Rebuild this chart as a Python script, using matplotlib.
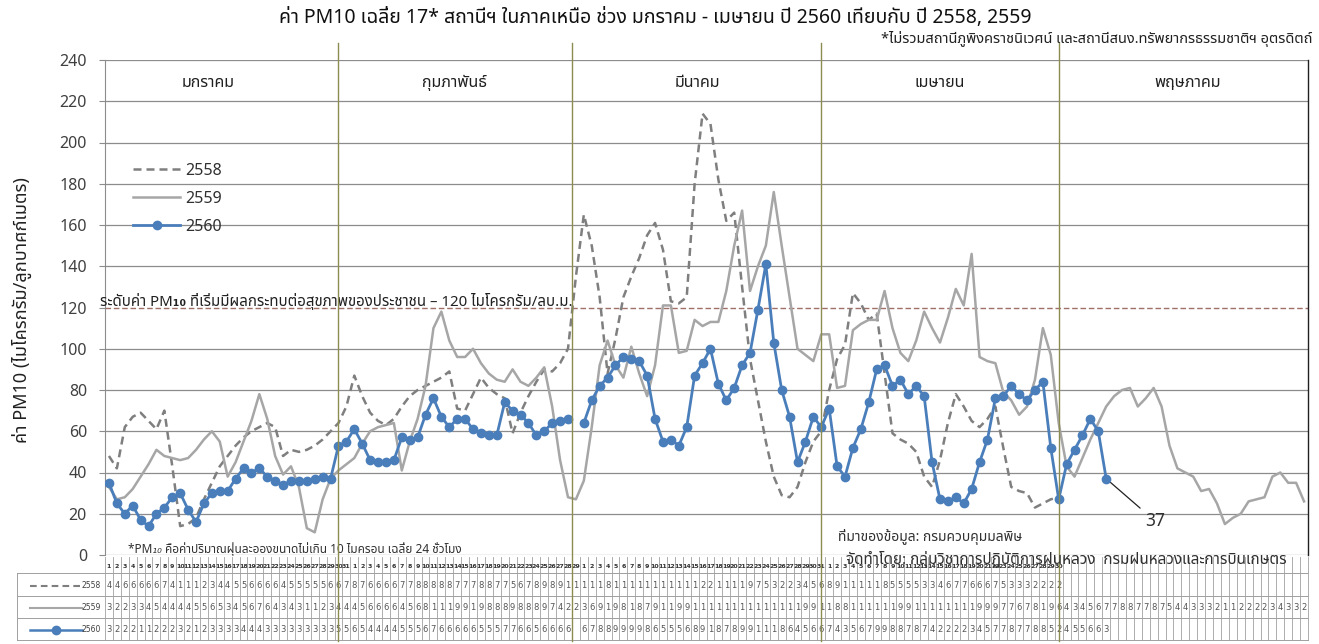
import matplotlib
matplotlib.use("Agg")
import matplotlib.pyplot as plt
import numpy as np
from matplotlib import font_manager
from matplotlib.ft2font import FT2Font
import matplotlib.transforms as mtransforms
from matplotlib.lines import Line2D

# ---------------- data ----------------
month_names = ["มกราคม", "กุมภาพันธ์", "มีนาคม", "เมษายน", "พฤษภาคม"]
month_days = [31, 29, 31, 30, 31]
labelled_months = 4          # the table header shows day numbers for Jan-Apr only
series_labels = ["2558", "2559", "2560"]

pm2558 = [48, 42, 62, 67, 69, 65, 61, 70, 43, 14, 15, 18, 27, 35, 43, 48, 53, 57, 60, 62,
          64, 62, 48, 51, 50, 51, 53, 56, 60, 64,
          72, 87, 77, 69, 65, 63, 66, 72, 77, 80, 82, 84, 86, 89, 71, 70, 78, 86, 81, 78,
          76, 59, 69, 77, 84, 90, 89, 93, 100, 135,
          165, 150, 125, 88, 105, 125, 135, 144, 155, 161, 148, 123, 122, 125, 180, 214, 209, 182, 162, 166,
          130, 95, 75, 55, 38, 29, 28, 33, 45, 55, 60,
          80, 95, 102, 127, 122, 114, 117, 88, 59, 56, 54, 50, 38, 33, 46, 64, 78, 72, 65, 62,
          66, 72, 52, 33, 31, 30, 23, 25, 27, 28]

pm2559 = [33, 27, 28, 32, 38, 44, 51, 48, 47, 46, 47, 51, 56, 60, 55, 38, 45, 55, 65, 78,
          66, 48, 39, 43, 33, 13, 11, 27, 37, 41,
          44, 47, 54, 60, 62, 63, 64, 41, 55, 66, 82, 110, 118, 104, 96, 96, 100, 93, 88, 85,
          84, 90, 84, 82, 86, 91, 72, 46, 28, 27,
          36, 62, 92, 104, 92, 86, 101, 88, 77, 92, 121, 121, 98, 99, 114, 111, 113, 113, 128, 150,
          167, 128, 140, 150, 176, 150, 125, 100, 97, 94, 107,
          107, 81, 82, 109, 112, 114, 114, 128, 110, 98, 94, 104, 118, 110, 103, 115, 129, 121, 146, 96,
          94, 93, 79, 75, 68, 72, 85, 110, 97, 64,
          43, 38, 47, 56, 64, 72, 77, 80, 81, 72, 76, 81, 72, 53, 42, 40, 38, 31, 32, 25,
          15, 18, 20, 26, 27, 28, 38, 40, 35, 35, 26]

pm2560 = [35, 25, 20, 24, 17, 14, 20, 23, 28, 30, 22, 16, 25, 30, 31, 31, 37, 42, 40, 42,
          38, 36, 34, 36, 36, 36, 37, 38, 37,
          53, 55, 61, 54, 46, 45, 45, 46, 57, 56, 57,
          68, 76, 67, 62, 66, 66, 61, 59, 58, 58, 74, 70, 68, 64, 58, 60, 64, 65, 66,
          np.nan,
          64, 75, 82, 86, 92, 96, 95, 94, 87, 66, 55, 56, 53, 62, 87, 93, 100, 83, 75, 81,
          92, 98, 119, 141, 103, 80, 67, 45, 55, 67, 62,
          71, 43, 38, 52, 61, 74, 90, 92, 82, 85, 78, 82, 77, 45, 27, 26, 28, 25, 32, 45,
          56, 76, 77, 82, 78, 75, 80, 84, 52, 27,
          44, 51, 58, 66, 60, 37]

threshold = 120
yticks = list(range(0, 241, 20))
month_line_pos = [29.0, 58.5, 90.0, 120.0]      # category positions of the month dividers
month_label_pos = [12.5, 43.7, 74.3, 105.0, 136.3]

# ---------------- fonts ----------------
def find_thai():
    prefs = ["Tahoma", "Noto Sans Thai", "Noto Sans Thai UI", "Sarabun", "Loma", "Garuda",
             "Kinnari", "Norasi", "Waree", "Umpush", "Laksaman", "Noto Serif Thai"]
    found = set()
    for f in font_manager.fontManager.ttflist:
        if f.name in found:
            continue
        try:
            if 0x0E01 in FT2Font(f.fname).get_charmap():
                found.add(f.name)
        except Exception:
            pass
    for p in prefs:
        if p in found:
            return p
    return sorted(found)[0] if found else None

thai = find_thai()
FAM = [thai, "DejaVu Sans"] if thai else ["DejaVu Sans"]
plt.rcParams["font.family"] = FAM

# ---------------- figure ----------------
W, H = 1319, 644
fig = plt.figure(figsize=(W / 100, H / 100), dpi=100)
L, R, T, B = 105, 1308, 60, 555
ax = fig.add_axes([L / W, 1 - B / H, (R - L) / W, (B - T) / H])

N = sum(month_days)
x = np.arange(N)

def pad(a):
    out = np.full(N, np.nan)
    out[:len(a)] = a
    return out

y58, y59, y60 = pad(pm2558), pad(pm2559), pad(pm2560)

ax.set_xlim(-0.5, N - 0.5)
ax.set_ylim(0, 240)

grid_c = "#8c8c8c"
for v in yticks:
    if v == threshold:
        continue
    ax.axhline(v, color=grid_c, lw=0.9, zorder=0)

for s in ["top", "bottom"]:
    ax.spines[s].set_visible(False)
ax.spines["left"].set_color(grid_c)
ax.spines["right"].set_color("#202020")
ax.spines["right"].set_linewidth(1.0)
ax.set_xticks([])
ax.set_yticks(yticks)
ax.tick_params(axis="y", length=4, pad=9, color=grid_c, labelsize=11.5, labelcolor="#404040")

# threshold line
ax.axhline(threshold, color="#a07068", lw=1.0, ls=(0, (4, 2)), zorder=1)

# series
l58, = ax.plot(x, y58, color="#7f7f7f", lw=1.8, ls=(0, (3.2, 2)), zorder=3, label=series_labels[0])
l59, = ax.plot(x, y59, color="#a6a6a6", lw=1.8, zorder=3, label=series_labels[1])
l60, = ax.plot(x, y60, color="#4a7ebb", lw=2.0, marker="o", ms=6, zorder=4, label=series_labels[2])

# month divider lines (x in data, y in figure)
bt = mtransforms.blended_transform_factory(ax.transData, fig.transFigure)
def fy(py):
    return 1 - py / H
for xm in month_line_pos:
    fig.add_artist(Line2D([xm, xm], [fy(43), fy(641)], transform=bt, color="#8c8c50", lw=1.0, zorder=5))
for xm, nm in zip(month_label_pos, month_names):
    ax.text(xm, 229, nm, ha="center", va="center", fontsize=11.5, color="#202020")

# legend
leg = ax.legend(handles=[l58, l59, l60], loc="upper left",
                bbox_to_anchor=((133 - L) / (R - L), (B - 163) / (B - T)),
                frameon=False, fontsize=11.5, handlelength=2.95, handletextpad=0.35,
                labelspacing=0.75, borderpad=0, borderaxespad=0)
for t in leg.get_texts():
    t.set_color("#303030")

# threshold label
fig.text(100 / W, fy(301), "ระดับค่า PM₁₀ ที่เริ่มมีผลกระทบต่อสุขภาพของประชาชน – 120 ไมโครกรัม/ลบ.ม.",
         ha="left", va="center", fontsize=10.8, color="#202020", fontweight="bold")

# annotation of the last value
last_i = int(np.where(~np.isnan(y60))[0][-1])
ax.annotate(f"{int(y60[last_i])}", xy=(last_i, y60[last_i]),
            xytext=((1155 - L) / (R - L) * N - 0.5, (B - 521) / (B - T) * 240),
            ha="center", va="center", fontsize=12.5, color="#303030",
            arrowprops=dict(arrowstyle="-", color="#202020", lw=0.9, shrinkA=2, shrinkB=2))

# titles and notes
fig.text(655 / W, fy(18), "ค่า PM10 เฉลี่ย 17* สถานีฯ ในภาคเหนือ ช่วง มกราคม - เมษายน ปี 2560 เทียบกับ ปี 2558, 2559",
         ha="center", va="center", fontsize=14, color="#101010")
fig.text(1312 / W, fy(39), "*ไม่รวมสถานีภูพิงคราชนิเวศน์ และสถานีสนง.ทรัพยากรธรรมชาติฯ อุตรดิตถ์",
         ha="right", va="center", fontsize=10.5, style="italic", color="#202020")
fig.text(22 / W, fy(310), "ค่า PM10 (ไมโครกรัม/ลูกบาศก์เมตร)", rotation=90,
         ha="center", va="center", fontsize=13, color="#202020")
fig.text(128 / W, fy(549), "*PM₁₀ คือค่าปริมาณฝุ่นละอองขนาดไม่เกิน 10 ไมครอน เฉลี่ย 24 ชั่วโมง",
         ha="left", va="center", fontsize=8.5, style="italic", color="#303030")
fig.text(838 / W, fy(537), "ที่มาของข้อมูล: กรมควบคุมมลพิษ",
         ha="left", va="center", fontsize=10, style="italic", color="#303030")
fig.text(846 / W, fy(560), "จัดทำโดย: กลุ่มวิชาการปฏิบัติการฝนหลวง  กรมฝนหลวงและการบินเกษตร",
         ha="left", va="center", fontsize=11, style="italic", color="#303030", zorder=6)

# ---------------- data table ----------------
tab_c = "#a0a0a0"
row_lines = [573, 596, 618, 640]
for py in row_lines:
    fig.add_artist(Line2D([17 / W, R / W], [fy(py), fy(py)], color=tab_c, lw=0.7))
fig.add_artist(Line2D([17 / W, 17 / W], [fy(573), fy(640)], color=tab_c, lw=0.7))
for k in range(N + 1):
    fig.add_artist(Line2D([k - 0.5, k - 0.5], [fy(557), fy(640)], transform=bt, color=tab_c, lw=0.6))

day_labels = [str(d + 1) for m in month_days[:labelled_months] for d in range(m)]
for i, d in enumerate(day_labels):
    fig.text(i, fy(566), d, transform=bt, ha="center", va="center",
             fontsize=4.5, fontweight="bold", color="#303030", family="DejaVu Sans")

row_y = [586, 608, 630]
for ys, py in zip([y58, y59, y60], row_y):
    for i, v in enumerate(ys):
        if np.isnan(v):
            continue
        fig.text(i, fy(py), str(int(round(v)))[0], transform=bt, ha="center", va="center",
                 fontsize=6, color="#555555", family="DejaVu Sans")

# legend keys inside table
fig.add_artist(Line2D([30 / W, 82 / W], [fy(586), fy(586)], color="#7f7f7f", lw=1.5, ls=(0, (3.2, 2))))
fig.add_artist(Line2D([30 / W, 82 / W], [fy(608), fy(608)], color="#a6a6a6", lw=1.5))
fig.add_artist(Line2D([30 / W, 82 / W], [fy(630), fy(630)], color="#4a7ebb", lw=1.8))
fig.add_artist(Line2D([56 / W], [fy(630)], color="#4a7ebb", marker="o", ms=6, lw=0))
for lab, py in zip(series_labels, row_y):
    fig.text(101 / W, fy(py), lab, ha="right", va="center", fontsize=5.5, color="#404040",
             family="DejaVu Sans")

fig.savefig("out.png", dpi=100)
